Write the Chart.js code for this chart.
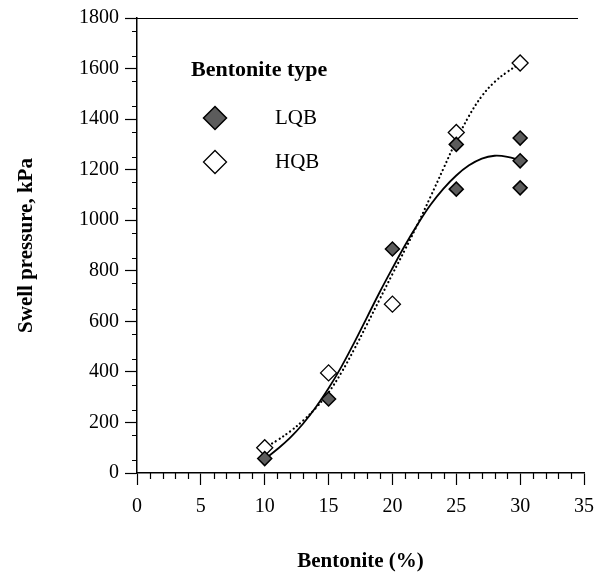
<!DOCTYPE html>
<html><head><meta charset="utf-8">
<script src="https://cdn.jsdelivr.net/npm/chart.js@4"></script>
<style>html,body{margin:0;padding:0;background:#fff}</style>
</head><body>
<canvas id="c" width="598" height="574"></canvas>
<script>
// Measured points
const lqbX = [10, 15, 20, 25, 25, 30, 30, 30];
const lqbPressure = [57, 293, 886, 1300, 1123, 1325, 1235, 1128];
const hqbX = [10, 15, 20, 25, 30];
const hqbPressure = [100, 396, 668, 1347, 1622];
// Trend curves
const trendX = [10, 11, 12, 13, 14, 15, 16, 17, 18, 19, 20, 21, 22, 23, 24, 25, 26, 27, 28, 29, 30];
const lqbTrend = [55, 95, 140, 195, 260, 335, 420, 515, 615, 715, 810, 902, 986, 1062, 1125, 1177, 1217, 1244, 1255, 1251, 1237];
const hqbTrend = [100, 130, 165, 207, 257, 319, 397, 489, 587, 687, 787, 885, 987, 1095, 1205, 1315, 1413, 1491, 1547, 1587, 1620];
// Axis ticks
const xTickStep = 5, xMin = 0, xMax = 35;
const yTickStep = 100, yLabelStep = 200, yMin = 0, yMax = 1800;
const seriesNames = ['LQB', 'HQB'];
const legendTitle = 'Bentonite type';

const FONT = "'Liberation Serif', 'DejaVu Serif', serif";
const pts = (xs, ys) => xs.map((v, i) => ({x: v, y: ys[i]}));

function diamond(ctx, cx, cy, r, fill, stroke, lw) {
  ctx.beginPath();
  ctx.moveTo(cx, cy - r); ctx.lineTo(cx + r, cy); ctx.lineTo(cx, cy + r); ctx.lineTo(cx - r, cy); ctx.closePath();
  ctx.fillStyle = fill; ctx.fill();
  ctx.lineWidth = lw; ctx.strokeStyle = stroke; ctx.stroke();
}

const decor = {
  id: 'decor',
  afterDraw(chart) {
    const {ctx, chartArea: a, scales: {x, y}} = chart;
    ctx.save();
    ctx.strokeStyle = '#000';
    ctx.lineWidth = 1.2;
    ctx.beginPath();
    ctx.moveTo(a.left - 12, a.top + 0.5); ctx.lineTo(a.right - 6, a.top + 0.5);
    for (let v = xMin; v <= xMax; v++) {
      if (v % xTickStep === 0) continue;
      const px = Math.round(x.getPixelForValue(v)) + 0.5;
      ctx.moveTo(px, a.bottom); ctx.lineTo(px, a.bottom + 6);
    }
    for (let v = yMin + 50; v < yMax; v += 100) {
      const py = Math.round(y.getPixelForValue(v)) + 0.5;
      ctx.moveTo(a.left - 5, py); ctx.lineTo(a.left, py);
    }
    ctx.stroke();
    // legend
    ctx.fillStyle = '#000';
    ctx.textBaseline = 'middle';
    ctx.textAlign = 'left';
    ctx.font = "bold 22px " + FONT;
    ctx.fillText(legendTitle, 191, 70);
    ctx.font = "21px " + FONT;
    ctx.fillText(seriesNames[0], 275, 118);
    ctx.fillText(seriesNames[1], 275, 162);
    diamond(ctx, 215, 118, 11.5, '#5c5c5c', '#000', 1.5);
    diamond(ctx, 215, 162, 11.5, '#fff', '#000', 1.3);
    ctx.restore();
  }
};

new Chart(document.getElementById('c'), {
  data: {
    datasets: [
      {type: 'scatter', label: seriesNames[0], data: pts(lqbX, lqbPressure), pointStyle: 'rectRot', pointRadius: 7,
       pointBackgroundColor: '#5c5c5c', pointBorderColor: '#000', pointBorderWidth: 1.5, order: 0},
      {type: 'scatter', label: seriesNames[1], data: pts(hqbX, hqbPressure), pointStyle: 'rectRot', pointRadius: 8,
       pointBackgroundColor: '#fff', pointBorderColor: '#000', pointBorderWidth: 1.3, order: 0},
      {type: 'line', label: 'LQB trend', data: pts(trendX, lqbTrend), borderColor: '#000', borderWidth: 1.8,
       pointRadius: 0, tension: 0.4, fill: false, order: 1},
      {type: 'line', label: 'HQB trend', data: pts(trendX, hqbTrend), borderColor: '#000', borderWidth: 2.2,
       borderDash: [0.1, 4.2], borderCapStyle: 'round', pointRadius: 0, tension: 0.4, fill: false, order: 1}
    ]
  },
  options: {
    responsive: false,
    animation: false,
    events: [],
    layout: {padding: {top: 18, right: 14, left: 0, bottom: 0}},
    plugins: {legend: {display: false}, tooltip: {enabled: false}},
    scales: {
      x: {
        type: 'linear', min: xMin, max: xMax,
        afterFit(s) { s.height = 101; s.paddingRight = 8; s.paddingLeft = 0; },
        ticks: {stepSize: xTickStep, color: '#000', font: {family: FONT, size: 20}, padding: 10, maxRotation: 0},
        grid: {drawOnChartArea: false, drawTicks: true, tickLength: 12, tickColor: '#000', tickWidth: 1.2},
        border: {display: true, color: '#000', width: 1.5},
        title: {display: true, text: 'Bentonite (%)', color: '#000', font: {family: FONT, size: 21, weight: 'bold'}, padding: {top: 0, bottom: 0}}
      },
      y: {
        type: 'linear', min: yMin, max: yMax,
        afterFit(s) { s.width = 137; },
        ticks: {stepSize: yTickStep, color: '#000', font: {family: FONT, size: 20}, padding: 6,
                callback: v => (v % yLabelStep === 0 ? String(v) : '')},
        grid: {drawOnChartArea: false, drawTicks: true, tickLength: 12, tickColor: '#000', tickWidth: 1.2},
        border: {display: true, color: '#000', width: 1.5},
        title: {display: true, text: 'Swell pressure, kPa', color: '#000', font: {family: FONT, size: 21, weight: 'bold'}, padding: {top: 14, bottom: 0}}
      }
    }
  },
  plugins: [decor]
});
</script>
</body></html>
